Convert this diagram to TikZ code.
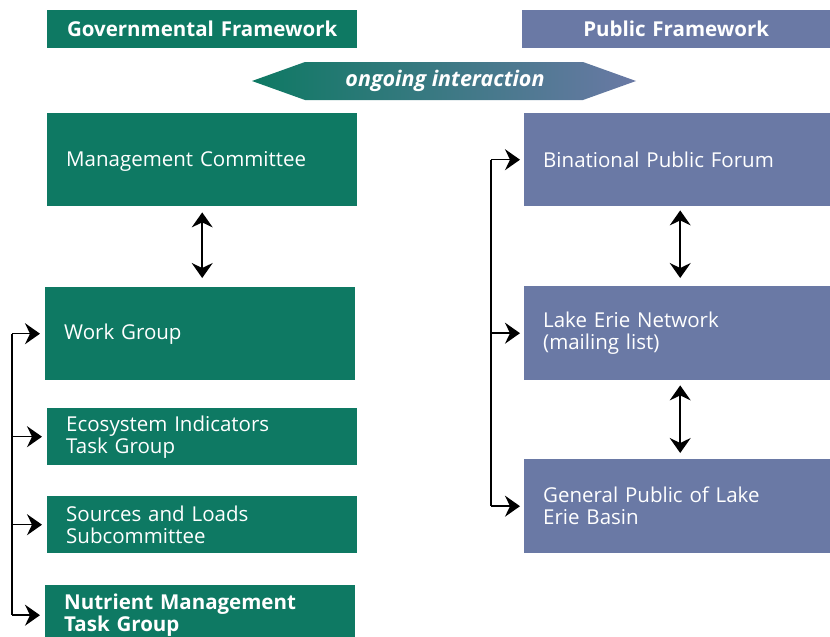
\documentclass[tikz,border=0pt]{standalone}
\usepackage{fontspec}
\setmainfont{Open Sans}
\usepackage{tikz}
\usetikzlibrary{arrows.meta}
\definecolor{GovGreen}{RGB}{14,121,99}
\definecolor{PubBlue}{RGB}{106,121,165}
\tikzset{govbox/.style={fill=GovGreen, text=white, anchor=north west,
  align=left, inner xsep=19pt, inner ysep=0pt, text width=272pt,
  font=\fontsize{20.5}{22}\selectfont}}
\tikzset{pubbox/.style={govbox, fill=PubBlue, text width=268pt}}
\tikzset{hdr/.style={govbox, align=center, inner xsep=0pt,
  minimum height=38pt, font=\fontsize{20.5}{22}\selectfont\bfseries}}
\tikzset{link/.style={line width=1.5pt,
  -{Stealth[length=15pt,width=21pt,inset=5pt]}}}
\tikzset{both/.style={line width=1.5pt,
  {Stealth[length=15pt,width=21pt,inset=5pt]}-{Stealth[length=15pt,width=21pt,inset=5pt]}}}

\begin{document}
\begin{tikzpicture}[x=1pt,y=1pt]
\useasboundingbox (0,0) rectangle (830,-637);

% headers
\node[hdr, text width=310pt] (gf) at (47,-10) {Governmental Framework};
\node[hdr, fill=PubBlue, text width=308pt] (pf) at (522,-10) {Public Framework};

\shade[left color=GovGreen, right color=PubBlue] (252,-81) -- (305,-62) -- (583,-62)
  -- (636,-81) -- (583,-100) -- (305,-100) -- cycle;
\node[text=white, font=\fontsize{21.5}{22}\selectfont\bfseries\itshape] (oi) at (445,-81) {ongoing interaction};

% governmental side
\node[govbox, minimum height=93pt, text depth=1pt] (mc) at (47,-113) {Management Committee};
\node[govbox, minimum height=93pt] (wg) at (45,-287) {Work Group};
\node[govbox, minimum height=57pt] (eco) at (47,-408) {Ecosystem Indicators\\Task Group};
\node[govbox, minimum height=57pt] (src) at (47,-496) {Sources and Loads\\Subcommittee};
\node[govbox, minimum height=60pt, font=\fontsize{20.5}{22}\selectfont\bfseries] (nut) at (45,-585) {Nutrient Management\\Task Group};

\draw[both] ([yshift=-6pt]mc.south) -- ([yshift=9pt]mc.south |- wg.north);

\coordinate (lt) at (12,0);
\draw[line width=1.5pt] (lt |- wg.west) -- (lt |- nut.west);
\foreach \n in {wg,eco,src,nut}
  \draw[link] (lt |- \n.west) -- ([xshift=-5pt]\n.west);

% public side
\node[pubbox, minimum height=93pt] (bf) at (524,-113) {Binational Public Forum};
\node[pubbox, minimum height=94pt] (len) at (524,-286) {Lake Erie Network\\(mailing list)};
\node[pubbox, minimum height=94pt] (gp) at (524,-459) {General Public of Lake\\Erie Basin};

\draw[both] ([xshift=3pt,yshift=-4pt]bf.south) -- ([xshift=3pt,yshift=8pt]bf.south |- len.north);
\draw[both] ([xshift=3pt,yshift=-5pt]len.south) -- ([xshift=3pt,yshift=6pt]len.south |- gp.north);

\coordinate (rt) at (491,0);
\draw[line width=1.5pt] (rt |- bf.west) -- (rt |- gp.west);
\foreach \n in {bf,len,gp}
  \draw[link] (rt |- \n.west) -- ([xshift=-4pt]\n.west);
\end{tikzpicture}
\end{document}
